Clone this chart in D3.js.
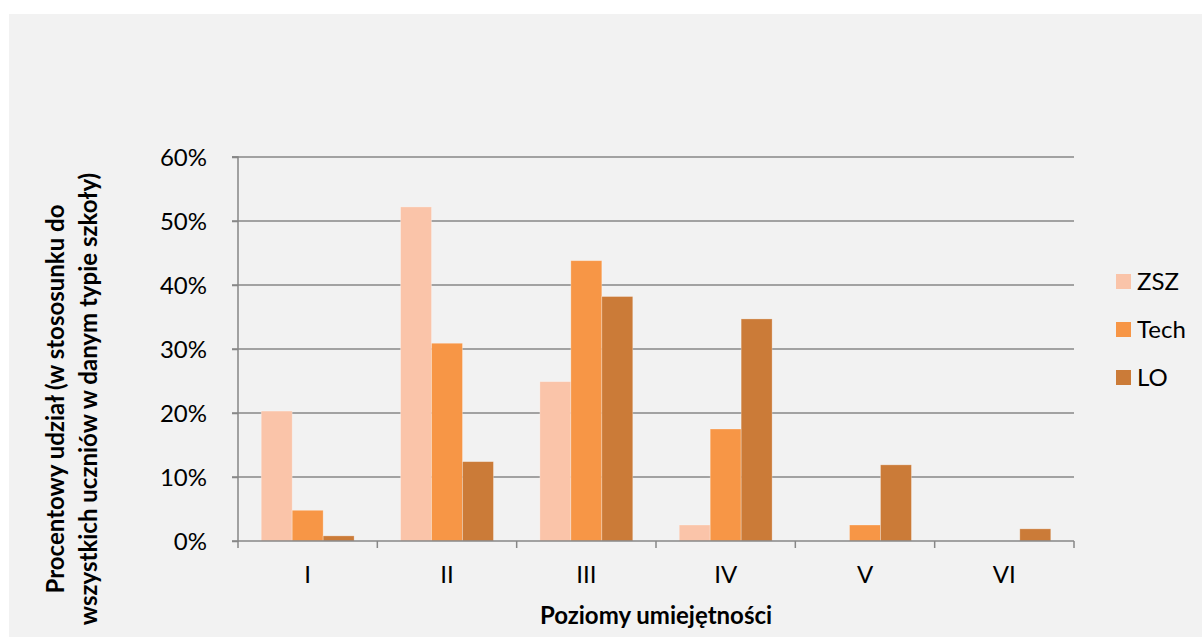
<!DOCTYPE html>
<html><head><meta charset="utf-8">
<script src="https://cdn.jsdelivr.net/npm/d3@7"></script>
<style>body{margin:0;background:#fff}svg{display:block}</style>
</head><body>
<script>
const categories = ["I","II","III","IV","V","VI"];
const seriesNames = ["ZSZ","Tech","LO"];
const zsz = [20.3, 52.2, 24.9, 2.5, 0, 0];
const tech = [4.8, 30.9, 43.8, 17.5, 2.5, 0];
const lo = [0.8, 12.4, 38.2, 34.7, 11.9, 1.9];
const yTicks = [0,10,20,30,40,50,60];
const colors = ["#fac4a9","#f79646","#cb7b38"];
const seriesValues = [zsz, tech, lo];

const W=1202,H=637;
const svg=d3.select("body").append("svg").attr("width",W).attr("height",H);
svg.append("rect").attr("x",9).attr("y",14).attr("width",W-9).attr("height",H-14).attr("fill","#f2f2f2");
const font="Lato, 'Open Sans', sans-serif";
const fs=24;
const x0=238,x1=1074,yb=541,yt=157;
const x=d3.scaleBand().domain(categories).range([x0,x1]).paddingInner(0).paddingOuter(0);
const xs=d3.scaleBand().domain(seriesNames).range([0,x.bandwidth()]).paddingInner(0).paddingOuter(0.75);
const y=d3.scaleLinear().domain([0,60]).range([yb,yt]);
const gc="#878787";
// gridlines
svg.append("g").selectAll("line").data(yTicks.filter(d=>d>0)).join("line")
 .attr("x1",x0-6).attr("x2",x1).attr("y1",d=>y(d)).attr("y2",d=>y(d))
 .attr("stroke",gc).attr("stroke-width",1.5);
// bars
seriesNames.forEach((s,i)=>{
  svg.append("g").selectAll("rect").data(categories.map((c,j)=>({c,v:seriesValues[i][j]})).filter(d=>d.v>0)).join("rect")
   .attr("x",d=>x(d.c)+xs(s)).attr("width",xs.bandwidth())
   .attr("y",d=>y(d.v)).attr("height",d=>yb-y(d.v))
   .attr("fill",colors[i]).attr("stroke","#ffffff").attr("stroke-opacity",0.35).attr("stroke-width",0.8);
});
// y axis
const ya=svg.append("g").attr("transform",`translate(${x0},0)`)
 .call(d3.axisLeft(y).tickValues(yTicks).tickSize(6).tickPadding(25).tickFormat(d=>d+"%"));
ya.select(".domain").attr("stroke",gc).attr("stroke-width",1.5).attr("d",`M-6,${yt}H0V${yb}H-6`);
ya.selectAll(".tick line").attr("stroke",gc).attr("stroke-width",1.5);
ya.selectAll("text").attr("font-family",font).attr("font-size",fs).attr("fill","#000").attr("dy","0.35em");
// x axis
const xa=svg.append("g").attr("transform",`translate(0,${yb})`)
 .call(d3.axisBottom(x).tickSize(0).tickPadding(0));
xa.select(".domain").attr("stroke",gc).attr("stroke-width",1.5).attr("d",`M${x0},0H${x1}`);
xa.selectAll("text").attr("font-family",font).attr("font-size",fs).attr("fill","#000").attr("y",42).attr("dy",0);
svg.append("g").selectAll("line").data(d3.range(categories.length+1)).join("line")
 .attr("x1",i=>x0+i*x.step()).attr("x2",i=>x0+i*x.step()).attr("y1",yb).attr("y2",yb+7)
 .attr("stroke",gc).attr("stroke-width",1.5);
// axis titles
svg.append("text").attr("x",656).attr("y",624).attr("text-anchor","middle")
 .attr("font-family",font).attr("font-weight","bold").attr("font-size",fs).text("Poziomy umiejętności");
const yt1=svg.append("g").attr("transform","translate(0,399) rotate(-90)");
yt1.append("text").attr("x",0).attr("y",64).attr("text-anchor","middle")
 .attr("font-family",font).attr("font-weight","bold").attr("font-size",fs).text("Procentowy udział (w stososunku do");
yt1.append("text").attr("x",0).attr("y",97).attr("text-anchor","middle")
 .attr("font-family",font).attr("font-weight","bold").attr("font-size",fs).text("wszystkich uczniów w danym typie szkoły)");
// legend
const lg=svg.append("g");
seriesNames.forEach((s,i)=>{
  const top=274+i*48;
  lg.append("rect").attr("x",1116).attr("y",top).attr("width",15).attr("height",15).attr("fill",colors[i]);
  lg.append("text").attr("x",1137).attr("y",top+16).attr("font-family",font).attr("font-size",fs).text(s);
});
</script>
</body></html>
